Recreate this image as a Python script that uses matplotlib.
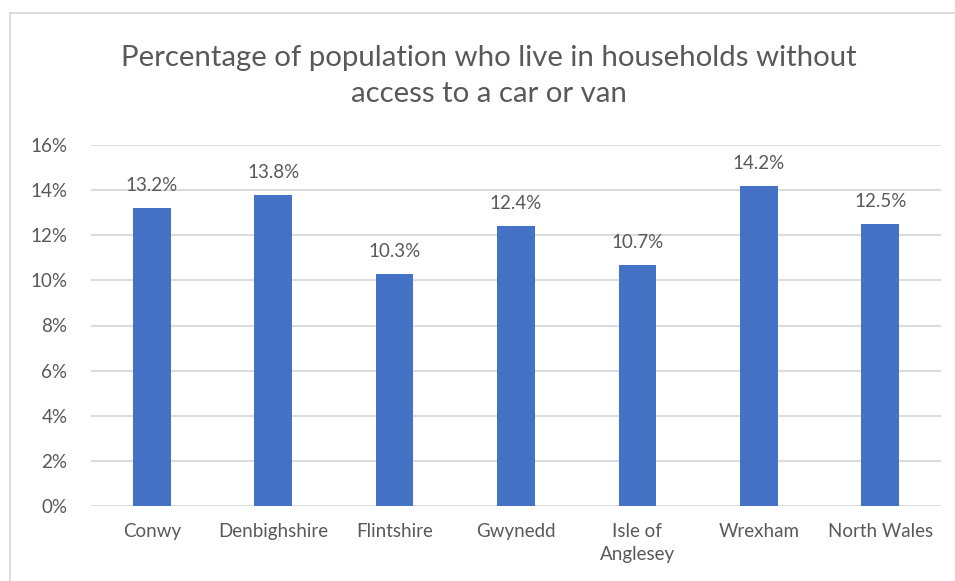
import matplotlib.pyplot as plt
import matplotlib.ticker as ticker
import numpy as np
from matplotlib.lines import Line2D

areas = ['Conwy', 'Denbighshire', 'Flintshire', 'Gwynedd', 'Isle of\nAnglesey', 'Wrexham', 'North Wales']
pct_no_car = [13.2, 13.8, 10.3, 12.4, 10.7, 14.2, 12.5]
yticks = [0, 2, 4, 6, 8, 10, 12, 14, 16]

bar_color = '#4472C4'
text_color = '#595959'
grid_color = '#D9D9D9'

plt.rcParams['font.family'] = ['Lato', 'DejaVu Sans']

W, H = 955, 581
fig = plt.figure(figsize=(W / 100, H / 100), dpi=100)
ax = fig.add_axes([91 / W, 1 - 506 / H, (941 - 91) / W, (506 - 145) / H])

X = np.arange(len(areas))
bars = ax.bar(X, pct_no_car, width=0.31, color=bar_color, zorder=3)
for x, v in zip(X, pct_no_car):
    ax.annotate(f'{v:.1f}%', (x, v), xytext=(0, 10), textcoords='offset points',
                ha='center', va='bottom', fontsize=13.5, color=text_color)

ax.set_xlim(-0.5, len(areas) - 0.5)
ax.set_ylim(0, 16)
ax.set_yticks(yticks)
ax.yaxis.set_major_formatter(ticker.FuncFormatter(lambda v, p: f'{v:.0f}%'))
ax.set_xticks(X)
ax.set_xticklabels(areas, linespacing=1.45)
ax.tick_params(axis='both', length=0, labelsize=13.5, labelcolor=text_color)
ax.tick_params(axis='x', pad=12)
ax.tick_params(axis='y', pad=17)
ax.grid(axis='y', color=grid_color, linewidth=1.3, zorder=0)
for s in ax.spines.values():
    s.set_visible(False)

fig.text(489 / W, 1 - 76 / H, 'Percentage of population who live in households without\naccess to a car or van',
         ha='center', va='center', fontsize=21.2, color=text_color, linespacing=1.45)

# chart border (clipped at right and bottom like the source)
fig.add_artist(Line2D([10 / W, 10 / W], [0, 1 - 13 / H], color=grid_color, linewidth=1.3, transform=fig.transFigure))
fig.add_artist(Line2D([10 / W, 1], [1 - 13 / H, 1 - 13 / H], color=grid_color, linewidth=1.3, transform=fig.transFigure))

fig.savefig('out.png', dpi=100)
